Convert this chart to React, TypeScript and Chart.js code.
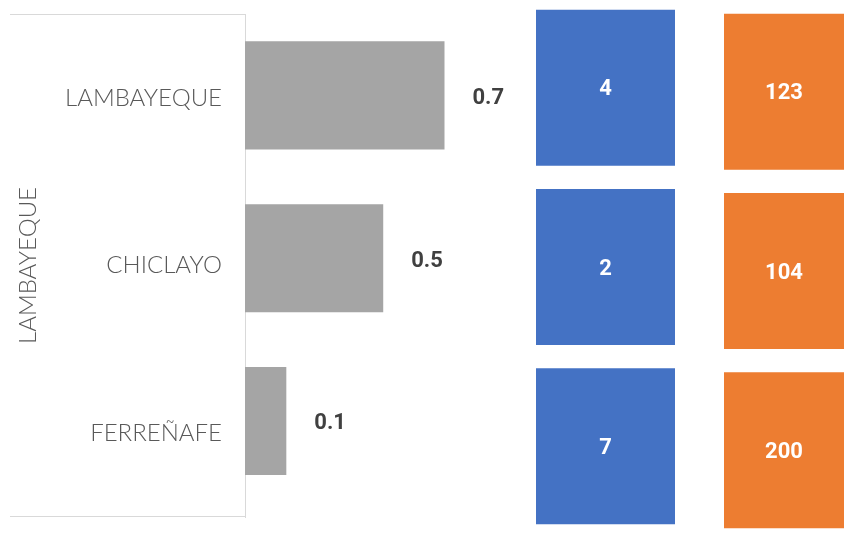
import React, { useEffect, useRef } from 'react';
import { Chart, registerables } from 'chart.js';

Chart.register(...registerables);

// ---- data ----
const provinces = ['LAMBAYEQUE', 'CHICLAYO', 'FERREÑAFE'];
const regionLabel = 'LAMBAYEQUE';
const greyValues = [0.7, 0.485, 0.145];
const blueCounts = [4, 2, 7];
const orangeCounts = [123, 104, 200];
// table-like cells: every cell is filled across its full column
const blueCells = [1, 1, 1];
const orangeCells = [1, 1, 1];

const GREY = '#A5A5A5';
const BLUE = '#4472C4';
const ORANGE = '#ED7D31';
const LINE = '#D9D9D9';
const NUM_FONT = 'bold 22px Roboto, "Noto Sans", sans-serif';
const CAT_FONT = { family: 'Lato, "Noto Sans", sans-serif', size: 24, weight: '300' as any };

const endLabels = (texts: string[]) => ({
  id: 'endLabels',
  afterDatasetsDraw(chart: any) {
    const ctx = chart.ctx;
    const meta = chart.getDatasetMeta(0);
    ctx.save();
    ctx.font = NUM_FONT;
    ctx.fillStyle = '#404040';
    ctx.textAlign = 'left';
    ctx.textBaseline = 'middle';
    meta.data.forEach((bar: any, i: number) => {
      ctx.fillText(texts[i], bar.x + 28, bar.y + 3);
    });
    ctx.restore();
  },
});

const centerLabels = (texts: string[]) => ({
  id: 'centerLabels',
  afterDatasetsDraw(chart: any) {
    const ctx = chart.ctx;
    const meta = chart.getDatasetMeta(0);
    ctx.save();
    ctx.font = NUM_FONT;
    ctx.fillStyle = '#FFFFFF';
    ctx.textAlign = 'center';
    ctx.textBaseline = 'middle';
    meta.data.forEach((bar: any, i: number) => {
      ctx.fillText(texts[i], (bar.x + bar.base) / 2, bar.y + 2);
    });
    ctx.restore();
  },
});

const framePlugin = {
  id: 'frame',
  afterDraw(chart: any) {
    const s = chart.scales.y;
    const ctx = chart.ctx;
    ctx.save();
    ctx.strokeStyle = LINE;
    ctx.lineWidth = 1;
    ctx.beginPath();
    ctx.moveTo(s.left, s.top + 0.5);
    ctx.lineTo(s.right, s.top + 0.5);
    ctx.moveTo(s.left, s.bottom - 0.5);
    ctx.lineTo(s.right, s.bottom - 0.5);
    ctx.stroke();
    ctx.restore();
  },
};

function GreyChart() {
  const ref = useRef<HTMLCanvasElement>(null);
  useEffect(() => {
    const chart = new Chart(ref.current!, {
      type: 'bar',
      data: {
        labels: provinces,
        datasets: [
          {
            data: greyValues.map((v, i) => ({ x: v, y: i })) as any,
            xAxisID: 'x',
            yAxisID: 'yb',
            backgroundColor: GREY,
            barPercentage: 0.83,
            categoryPercentage: 0.8,
          },
        ],
      },
      options: {
        indexAxis: 'y',
        responsive: false,
        animation: false,
        layout: { padding: { top: 14, bottom: 21, left: 10, right: 0 } },
        plugins: { legend: { display: false }, tooltip: { enabled: false } },
        scales: {
          x: { type: 'linear', display: false, min: 0, max: 1 },
          y: {
            type: 'category',
            position: 'left',
            offset: true,
            grid: { display: false, drawTicks: true, tickLength: 23 },
            border: { display: true, color: LINE, width: 1 },
            ticks: { color: '#595959', padding: 0, font: CAT_FONT },
            title: {
              display: true,
              text: regionLabel,
              color: '#595959',
              padding: { top: 4, bottom: 0 },
              font: CAT_FONT,
            },
            afterFit: (s: any) => {
              s.width = 235;
              s.paddingTop = 0;
              s.paddingBottom = 0;
            },
          },
          yb: {
            type: 'linear',
            display: false,
            reverse: true,
            offset: false,
            grid: { offset: false },
            min: -0.5,
            max: 2.59,
            afterBuildTicks: (s: any) => {
              s.ticks = greyValues.map((_, i) => ({ value: i }));
            },
          },
        },
      } as any,
      plugins: [endLabels(greyValues.map((v) => v.toFixed(1))), framePlugin],
    });
    return () => chart.destroy();
  }, []);
  return <canvas ref={ref} width={530} height={538} style={{ position: 'absolute', left: 0, top: 0 }} />;
}

function CellChart(props: { cells: number[]; counts: number[]; color: string; left: number; top: number; width: number }) {
  const ref = useRef<HTMLCanvasElement>(null);
  useEffect(() => {
    const chart = new Chart(ref.current!, {
      type: 'bar',
      data: {
        labels: provinces,
        datasets: [
          {
            data: props.cells,
            backgroundColor: props.color,
            barPercentage: 0.87,
            categoryPercentage: 1,
          },
        ],
      },
      options: {
        indexAxis: 'y',
        responsive: false,
        animation: false,
        layout: { padding: 0 },
        plugins: { legend: { display: false }, tooltip: { enabled: false } },
        scales: {
          x: { type: 'linear', display: false, min: 0, max: 1 },
          y: { type: 'category', display: false, offset: true },
        },
      } as any,
      plugins: [centerLabels(props.counts.map((c) => String(c)))],
    });
    return () => chart.destroy();
  }, []);
  return (
    <canvas
      ref={ref}
      width={props.width}
      height={538}
      style={{ position: 'absolute', left: props.left, top: props.top }}
    />
  );
}

export default function App() {
  return (
    <div
      style={{
        position: 'absolute',
        left: 0,
        top: 0,
        width: 844,
        height: 538,
        overflow: 'hidden',
        background: '#FFFFFF',
      }}
    >
      <GreyChart />
      <CellChart cells={blueCells} counts={blueCounts} color={BLUE} left={536} top={-2} width={139} />
      <CellChart cells={orangeCells} counts={orangeCounts} color={ORANGE} left={724} top={2} width={120} />
    </div>
  );
}
